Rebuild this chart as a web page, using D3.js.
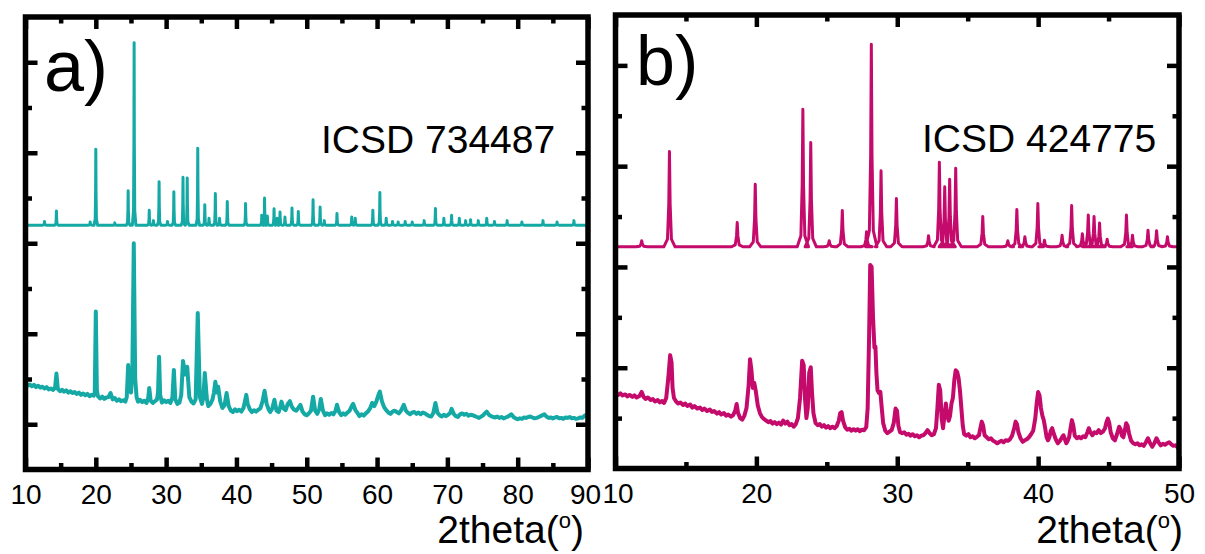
<!DOCTYPE html>
<meta charset="utf-8">
<script src="https://d3js.org/d3.v7.min.js"></script>
<style>
  body { margin: 0; background: #fff; }
  text { font-family: "Liberation Sans", Arial, sans-serif; fill: #000; }
</style>
<div id="my_dataviz"></div>
<script>
  // ---- data (2theta in degrees, intensity in arbitrary units) ----

  // panel a: simulated pattern ICSD 734487, peak positions and heights
  var aSimBase = 5.40;
  var aSimPos = [12.7, 14.4, 19.2, 20.0, 22.7, 24.6, 25.45, 27.6, 28.2, 29.0, 30.2, 31.1, 32.4, 33.0, 34.5, 35.5, 36.1, 37.0, 37.6, 38.7, 41.3, 43.6, 44.0, 44.4, 45.35, 45.8, 46.2, 46.9, 47.9, 48.8, 50.9, 51.9, 52.5, 54.3, 56.4, 56.9, 59.4, 60.4, 61.3, 62.2, 63.0, 64.0, 65.0, 66.7, 68.3, 69.5, 70.6, 71.7, 72.6, 73.3, 74.4, 75.6, 76.7, 78.5, 80.6, 83.6, 85.6, 88.0];
  var aSimInt = [5.48, 5.71, 5.47, 7.08, 5.45, 6.16, 9.43, 5.73, 5.50, 6.36, 5.48, 6.14, 6.46, 6.44, 7.10, 5.85, 5.55, 6.10, 5.55, 5.92, 5.88, 5.62, 6.00, 5.60, 5.76, 5.55, 5.69, 5.58, 5.78, 5.70, 5.96, 5.80, 5.50, 5.66, 5.58, 5.55, 5.73, 6.12, 5.55, 5.48, 5.47, 5.48, 5.47, 5.50, 5.77, 5.55, 5.62, 5.55, 5.50, 5.52, 5.50, 5.55, 5.48, 5.50, 5.47, 5.50, 5.47, 5.50];

  // panel a: measured pattern
  var aExp = [[10.0,1.90],[10.3,1.85],[10.6,1.88],[10.9,1.84],[11.2,1.87],[11.5,1.82],[11.8,1.85],[12.1,1.81],[12.4,1.83],[12.7,1.79],[13.0,1.82],[13.3,1.77],[13.6,1.79],[13.9,1.76],[14.2,1.80],[14.4,2.12],[14.6,1.78],[14.9,1.73],[15.2,1.76],[15.5,1.72],[15.8,1.75],[16.1,1.70],[16.4,1.73],[16.7,1.69],[17.0,1.71],[17.3,1.67],[17.6,1.70],[17.9,1.65],[18.2,1.68],[18.5,1.64],[18.8,1.67],[19.1,1.62],[19.4,1.65],[19.7,1.63],[19.85,1.70],[20.0,3.49],[20.15,1.75],[20.3,1.62],[20.6,1.57],[20.9,1.61],[21.2,1.56],[21.5,1.59],[21.8,1.60],[22.1,1.69],[22.4,1.55],[22.7,1.58],[23.0,1.52],[23.3,1.55],[23.6,1.51],[23.9,1.53],[24.2,1.50],[24.4,1.60],[24.6,2.31],[24.8,1.90],[25.0,1.70],[25.2,2.20],[25.4,5.00],[25.6,2.00],[25.8,1.60],[26.0,1.50],[26.3,1.54],[26.6,1.49],[26.9,1.52],[27.2,1.47],[27.45,1.58],[27.6,1.80],[27.8,1.52],[28.1,1.47],[28.4,1.51],[28.7,1.55],[28.85,1.70],[29.0,2.49],[29.15,1.65],[29.4,1.48],[29.7,1.53],[30.0,1.49],[30.3,1.52],[30.6,1.47],[30.9,1.60],[31.1,2.20],[31.3,1.55],[31.6,1.45],[31.9,1.48],[32.15,1.65],[32.4,2.40],[32.7,2.10],[33.0,2.27],[33.3,1.60],[33.6,1.50],[33.9,1.46],[34.2,1.55],[34.5,3.46],[34.8,1.60],[35.1,1.45],[35.3,1.60],[35.5,2.13],[35.8,1.55],[36.0,1.40],[36.3,1.45],[36.6,1.55],[36.8,1.70],[37.0,1.94],[37.2,1.70],[37.4,1.83],[37.7,1.50],[38.0,1.36],[38.3,1.42],[38.6,1.69],[38.9,1.40],[39.2,1.30],[39.5,1.27],[39.8,1.33],[40.1,1.29],[40.4,1.32],[40.7,1.28],[41.0,1.36],[41.2,1.50],[41.4,1.65],[41.6,1.45],[41.9,1.33],[42.2,1.27],[42.5,1.31],[42.8,1.28],[43.1,1.32],[43.4,1.35],[43.7,1.50],[44.0,1.74],[44.3,1.45],[44.6,1.32],[44.8,1.27],[45.1,1.35],[45.4,1.54],[45.7,1.30],[46.0,1.27],[46.2,1.36],[46.4,1.50],[46.7,1.35],[47.0,1.31],[47.3,1.45],[47.6,1.51],[47.9,1.38],[48.2,1.32],[48.5,1.30],[48.8,1.36],[49.1,1.43],[49.4,1.28],[49.7,1.22],[50.0,1.20],[50.3,1.24],[50.6,1.30],[50.9,1.61],[51.2,1.30],[51.5,1.23],[51.8,1.35],[52.0,1.56],[52.3,1.30],[52.6,1.20],[52.9,1.24],[53.2,1.21],[53.5,1.25],[53.8,1.22],[54.1,1.30],[54.3,1.43],[54.6,1.27],[54.9,1.20],[55.2,1.24],[55.5,1.21],[55.8,1.26],[56.1,1.30],[56.4,1.40],[56.6,1.45],[56.9,1.32],[57.2,1.25],[57.5,1.18],[57.8,1.22],[58.1,1.19],[58.4,1.24],[58.7,1.28],[59.0,1.35],[59.3,1.47],[59.6,1.40],[59.9,1.50],[60.2,1.65],[60.4,1.72],[60.7,1.50],[61.0,1.38],[61.3,1.31],[61.6,1.26],[61.9,1.23],[62.2,1.28],[62.5,1.30],[62.8,1.27],[63.1,1.24],[63.4,1.30],[63.8,1.43],[64.1,1.30],[64.4,1.25],[64.7,1.22],[65.0,1.26],[65.3,1.27],[65.6,1.23],[65.9,1.26],[66.2,1.22],[66.5,1.26],[66.8,1.24],[67.1,1.21],[67.4,1.18],[67.7,1.17],[68.0,1.25],[68.3,1.47],[68.6,1.25],[68.9,1.20],[69.2,1.17],[69.5,1.21],[69.8,1.18],[70.1,1.21],[70.4,1.25],[70.6,1.34],[70.9,1.23],[71.2,1.18],[71.5,1.16],[71.8,1.22],[72.1,1.24],[72.4,1.21],[72.7,1.23],[73.0,1.19],[73.3,1.21],[73.6,1.20],[73.9,1.18],[74.2,1.16],[74.5,1.14],[74.8,1.17],[75.1,1.20],[75.4,1.25],[75.6,1.28],[75.9,1.21],[76.2,1.18],[76.5,1.16],[76.8,1.15],[77.1,1.17],[77.4,1.14],[77.7,1.16],[78.0,1.13],[78.3,1.15],[78.6,1.17],[78.9,1.20],[79.1,1.22],[79.4,1.16],[79.7,1.13],[80.0,1.11],[80.3,1.13],[80.6,1.12],[80.9,1.15],[81.2,1.14],[81.5,1.16],[81.8,1.17],[82.1,1.15],[82.4,1.13],[82.7,1.14],[83.0,1.16],[83.4,1.19],[83.8,1.22],[84.1,1.17],[84.4,1.14],[84.7,1.15],[85.0,1.13],[85.3,1.15],[85.6,1.16],[85.9,1.13],[86.2,1.14],[86.5,1.12],[86.8,1.15],[87.1,1.14],[87.4,1.16],[87.7,1.13],[88.0,1.14],[88.3,1.12],[88.6,1.13],[88.9,1.15],[89.2,1.14],[89.6,1.20],[90.0,1.17]];

  // panel b: simulated pattern ICSD 424775
  var bSimBase = 4.40;
  var bSimPos = [11.86, 13.83, 18.64, 19.92, 23.30, 23.86, 25.17, 26.10, 27.82, 28.16, 28.85, 29.94, 32.22, 32.99, 33.37, 33.72, 34.15, 36.07, 37.85, 38.49, 39.06, 39.98, 40.45, 41.70, 42.38, 43.14, 43.56, 43.97, 44.36, 44.90, 46.27, 46.70, 47.80, 48.41, 49.18];
  var bSimInt = [4.52, 6.29, 4.88, 5.64, 7.13, 6.47, 4.52, 5.12, 4.70, 8.42, 5.91, 5.36, 4.62, 6.08, 5.59, 5.74, 5.96, 5.00, 4.52, 5.14, 4.60, 5.26, 4.53, 4.63, 5.22, 4.66, 5.03, 5.00, 4.87, 4.55, 5.03, 4.63, 4.73, 4.72, 4.60];

  // panel b: measured pattern
  var bExp = [[10.0,1.50],[10.2,1.46],[10.35,1.49],[10.5,1.45],[10.7,1.47],[10.85,1.43],[11.0,1.46],[11.2,1.42],[11.35,1.45],[11.5,1.41],[11.7,1.44],[11.86,1.52],[12.0,1.42],[12.15,1.38],[12.3,1.41],[12.5,1.36],[12.65,1.38],[12.8,1.33],[13.0,1.36],[13.15,1.31],[13.3,1.34],[13.45,1.30],[13.6,1.40],[13.75,1.80],[13.88,2.25],[13.98,2.10],[14.05,1.60],[14.15,1.40],[14.3,1.33],[14.45,1.29],[14.6,1.31],[14.8,1.26],[14.95,1.29],[15.1,1.24],[15.3,1.27],[15.45,1.21],[15.6,1.24],[15.8,1.19],[16.0,1.21],[16.15,1.16],[16.3,1.19],[16.5,1.14],[16.7,1.17],[16.85,1.12],[17.0,1.14],[17.2,1.09],[17.35,1.12],[17.5,1.07],[17.7,1.10],[17.85,1.05],[18.0,1.07],[18.2,1.03],[18.35,1.06],[18.5,1.15],[18.6,1.28],[18.7,1.10],[18.85,1.00],[19.0,0.97],[19.15,1.05],[19.3,1.20],[19.45,1.65],[19.55,2.17],[19.65,1.95],[19.75,1.60],[19.85,1.70],[19.95,1.55],[20.1,1.25],[20.25,1.10],[20.4,1.02],[20.55,0.98],[20.7,0.95],[20.85,0.92],[21.0,0.94],[21.15,0.89],[21.3,0.92],[21.45,0.88],[21.6,0.91],[21.75,0.87],[21.9,0.95],[22.05,0.89],[22.2,0.93],[22.35,0.86],[22.5,0.88],[22.65,0.83],[22.8,0.88],[22.95,1.00],[23.1,1.40],[23.25,2.14],[23.36,2.05],[23.45,1.40],[23.55,1.00],[23.65,1.20],[23.75,1.90],[23.86,2.01],[23.95,1.50],[24.05,1.10],[24.2,0.90],[24.35,0.86],[24.5,0.88],[24.65,0.83],[24.8,0.86],[24.95,0.81],[25.1,0.84],[25.25,0.80],[25.4,0.83],[25.55,0.80],[25.7,0.84],[25.85,0.95],[25.95,1.10],[26.05,1.12],[26.15,0.95],[26.3,0.82],[26.45,0.77],[26.6,0.79],[26.75,0.75],[26.9,0.78],[27.05,0.75],[27.2,0.78],[27.35,0.74],[27.5,0.77],[27.65,0.76],[27.8,0.82],[27.9,1.20],[28.0,2.60],[28.08,4.04],[28.18,4.00],[28.28,3.00],[28.38,2.40],[28.45,2.42],[28.52,1.90],[28.6,1.55],[28.7,1.50],[28.8,1.52],[28.9,1.20],[29.0,0.90],[29.15,0.75],[29.3,0.70],[29.45,0.73],[29.6,0.76],[29.75,0.90],[29.88,1.19],[29.98,1.15],[30.08,0.85],[30.2,0.72],[30.35,0.70],[30.5,0.72],[30.65,0.67],[30.8,0.69],[30.95,0.65],[31.1,0.68],[31.25,0.64],[31.4,0.66],[31.55,0.62],[31.7,0.65],[31.85,0.66],[32.0,0.70],[32.15,0.76],[32.3,0.70],[32.45,0.66],[32.6,0.68],[32.75,0.80],[32.85,1.20],[32.95,1.66],[33.05,1.55],[33.15,1.00],[33.25,0.80],[33.35,1.05],[33.45,1.29],[33.55,1.05],[33.65,0.95],[33.75,1.05],[33.85,1.29],[33.95,1.40],[34.05,1.75],[34.15,1.95],[34.25,1.92],[34.35,1.80],[34.45,1.55],[34.55,1.20],[34.65,0.85],[34.75,0.68],[34.9,0.65],[35.05,0.68],[35.2,0.62],[35.35,0.64],[35.5,0.60],[35.65,0.63],[35.8,0.66],[35.9,0.80],[36.0,0.93],[36.1,0.85],[36.2,0.66],[36.35,0.62],[36.5,0.58],[36.65,0.60],[36.8,0.55],[36.95,0.53],[37.1,0.50],[37.25,0.53],[37.4,0.55],[37.55,0.52],[37.7,0.56],[37.85,0.55],[38.0,0.58],[38.15,0.65],[38.3,0.80],[38.4,0.93],[38.5,0.88],[38.6,0.72],[38.75,0.60],[38.9,0.53],[39.05,0.56],[39.2,0.58],[39.35,0.62],[39.5,0.68],[39.65,0.75],[39.8,1.00],[39.9,1.30],[40.0,1.52],[40.1,1.45],[40.2,1.20],[40.3,1.05],[40.4,0.96],[40.5,0.80],[40.6,0.62],[40.7,0.56],[40.8,0.62],[40.9,0.75],[41.0,0.80],[41.1,0.70],[41.25,0.58],[41.4,0.50],[41.55,0.55],[41.7,0.62],[41.8,0.66],[41.9,0.58],[42.0,0.50],[42.1,0.55],[42.2,0.62],[42.3,0.80],[42.4,0.96],[42.5,0.85],[42.6,0.65],[42.75,0.60],[42.9,0.63],[43.05,0.60],[43.2,0.64],[43.35,0.62],[43.5,0.72],[43.6,0.80],[43.7,0.72],[43.85,0.66],[44.0,0.72],[44.15,0.70],[44.3,0.76],[44.45,0.70],[44.6,0.73],[44.75,0.80],[44.85,0.92],[44.95,0.99],[45.05,0.90],[45.15,0.72],[45.3,0.60],[45.45,0.56],[45.6,0.68],[45.75,0.83],[45.85,0.78],[45.95,0.65],[46.05,0.62],[46.15,0.75],[46.25,0.90],[46.35,0.85],[46.45,0.70],[46.6,0.55],[46.75,0.50],[46.9,0.48],[47.05,0.50],[47.2,0.46],[47.35,0.48],[47.5,0.45],[47.65,0.52],[47.8,0.60],[47.95,0.50],[48.1,0.43],[48.25,0.50],[48.4,0.60],[48.55,0.52],[48.7,0.46],[48.85,0.49],[49.0,0.47],[49.15,0.50],[49.3,0.52],[49.45,0.48],[49.6,0.45],[49.75,0.46],[49.9,0.42],[50.0,0.43]];

  // ticks
  var aXTicks = [10, 20, 30, 40, 50, 60, 70, 80, 90];
  var aXMinor = [15, 25, 35, 45, 55, 65, 75, 85];
  var aYMajor = [1, 3, 5, 7, 9];
  var aYMinor = [2, 4, 6, 8];
  var bXTicks = [10, 20, 30, 40, 50];
  var bXMinor = [15, 25, 35, 45];
  var bYMajor = [2, 4, 6, 8];
  var bYMinor = [1, 3, 5, 7];

  // ---- drawing ----
  var width = 1205, height = 554;

  var svg = d3.select("#my_dataviz")
    .append("svg")
    .attr("width", width)
    .attr("height", height);

  svg.append("rect").attr("width", width).attr("height", height).attr("fill", "#fff");

  // turn a peak list into a sharp peak line on a flat baseline
  function spikes(pos, ints, base, w, xMin, xMax) {
    var pts = [[xMin, base]];
    pos.forEach(function (p, i) {
      var d = ints[i] - base;
      pts.push([p - w, base]);
      pts.push([p - w * 0.35, base + d * 0.08]);
      pts.push([p - w * 0.12, base + d * 0.45]);
      pts.push([p, ints[i]]);
      pts.push([p + w * 0.12, base + d * 0.45]);
      pts.push([p + w * 0.35, base + d * 0.08]);
      pts.push([p + w, base]);
    });
    pts.push([xMax, base]);
    return pts;
  }

  var panels = [
    {
      id: "a", left: 25.5, right: 588, top: 17, bottom: 469.5,
      xDomain: [10, 90], yDomain: [0, 10],
      xTicks: aXTicks, xMinor: aXMinor, yMajor: aYMajor, yMinor: aYMinor,
      color: "#14A9A5",
      sim: spikes(aSimPos, aSimInt, aSimBase, 0.25, 10, 90),
      exp: aExp,
      letter: "a)", letterX: 44, letterY: 91, letterSize: 72,
      icsd: "ICSD 734487", icsdX: 321, icsdY: 153,
      titleX: 584, edgeShift: -3
    },
    {
      id: "b", left: 615.5, right: 1179, top: 15, bottom: 468.5,
      xDomain: [10, 50], yDomain: [0, 9],
      xTicks: bXTicks, xMinor: bXMinor, yMajor: bYMajor, yMinor: bYMinor,
      color: "#C40A6B",
      sim: spikes(bSimPos, bSimInt, bSimBase, 0.4, 10, 50),
      exp: bExp,
      letter: "b)", letterX: 636, letterY: 85, letterSize: 70,
      icsd: "ICSD 424775", icsdX: 922, icsdY: 152,
      titleX: 1183, edgeShift: 2
    }
  ];

  panels.forEach(function (p) {
    var x = d3.scaleLinear().domain(p.xDomain).range([p.left, p.right]);
    var y = d3.scaleLinear().domain(p.yDomain).range([p.bottom, p.top]);

    svg.append("clipPath").attr("id", "clip-" + p.id)
      .append("rect")
      .attr("x", p.left).attr("y", p.top)
      .attr("width", p.right - p.left).attr("height", p.bottom - p.top);

    var line = d3.line()
      .x(function (d) { return x(d[0]); })
      .y(function (d) { return y(d[1]); });

    var plot = svg.append("g").attr("clip-path", "url(#clip-" + p.id + ")");

    plot.append("path")
      .datum(p.sim)
      .attr("d", line)
      .attr("fill", "none")
      .attr("stroke", p.color)
      .attr("stroke-width", 3)
      .attr("stroke-linejoin", "round");

    plot.append("path")
      .datum(p.exp)
      .attr("d", line)
      .attr("fill", "none")
      .attr("stroke", p.color)
      .attr("stroke-width", 4)
      .attr("stroke-linejoin", "round");

    // axes: ticks point into the plot, only the bottom one gets labels
    var axes = [
      { gen: d3.axisBottom(x).tickValues(p.xTicks).tickSize(-12).tickPadding(15).tickFormat(d3.format("d")), t: "translate(0," + p.bottom + ")", labels: true },
      { gen: d3.axisBottom(x).tickValues(p.xMinor).tickSize(-6.5).tickFormat(""), t: "translate(0," + p.bottom + ")" },
      { gen: d3.axisTop(x).tickValues(p.xTicks).tickSize(-12).tickFormat(""), t: "translate(0," + p.top + ")" },
      { gen: d3.axisTop(x).tickValues(p.xMinor).tickSize(-6.5).tickFormat(""), t: "translate(0," + p.top + ")" },
      { gen: d3.axisLeft(y).tickValues(p.yMajor).tickSize(-12).tickFormat(""), t: "translate(" + p.left + ",0)" },
      { gen: d3.axisLeft(y).tickValues(p.yMinor).tickSize(-6.5).tickFormat(""), t: "translate(" + p.left + ",0)" },
      { gen: d3.axisRight(y).tickValues(p.yMajor).tickSize(-12).tickFormat(""), t: "translate(" + p.right + ",0)" },
      { gen: d3.axisRight(y).tickValues(p.yMinor).tickSize(-6.5).tickFormat(""), t: "translate(" + p.right + ",0)" }
    ];
    axes.forEach(function (a) {
      var g = svg.append("g").attr("transform", a.t).call(a.gen);
      g.select(".domain").remove();
      g.selectAll(".tick line").attr("stroke", "#000").attr("stroke-width", 4.5);
      var labels = g.selectAll(".tick text")
        .style("font-family", "'Liberation Sans', Arial, sans-serif")
        .style("font-size", "28px")
        .attr("fill", "#000");
      if (a.labels) {
        // the "90" of panel a and the "10" of panel b sit edge to edge
        labels.filter(function (d) { return d === (p.edgeShift < 0 ? p.xDomain[1] : p.xDomain[0]); })
          .attr("dx", p.edgeShift);
      }
    });

    // frame
    svg.append("rect")
      .attr("x", p.left).attr("y", p.top)
      .attr("width", p.right - p.left).attr("height", p.bottom - p.top)
      .attr("fill", "none")
      .attr("stroke", "#000")
      .attr("stroke-width", 5.5);

    svg.append("text")
      .attr("x", p.letterX).attr("y", p.letterY)
      .style("font-size", p.letterSize + "px")
      .text(p.letter);

    svg.append("text")
      .attr("x", p.icsdX).attr("y", p.icsdY)
      .style("font-size", "39px")
      .text(p.icsd);

    var title = svg.append("text")
      .attr("x", p.titleX).attr("y", 543)
      .attr("text-anchor", "end")
      .style("font-size", "39px");
    title.append("tspan").text("2theta(");
    title.append("tspan").attr("dy", -15).style("font-size", "22px").text("o");
    title.append("tspan").attr("dy", 15).text(")");
  });
</script>
